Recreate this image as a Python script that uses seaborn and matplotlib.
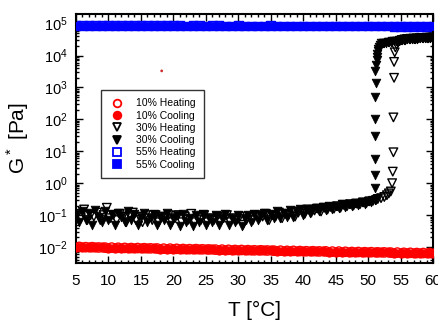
import numpy as np
import pandas as pd
import seaborn as sns
import matplotlib
matplotlib.use("Agg")
import matplotlib.pyplot as plt
from matplotlib.lines import Line2D
from matplotlib.ticker import LogLocator, MultipleLocator

# ---- data ----
T_grid = [5, 6, 7, 8, 9, 10, 11, 12, 13, 14, 15, 16, 17, 18, 19, 20, 21, 22, 23, 24,
          25, 26, 27, 28, 29, 30, 31, 32, 33, 34, 35, 36, 37, 38, 39, 40, 41, 42, 43, 44,
          45, 46, 47, 48, 49, 50, 51, 52, 53, 54, 55, 56, 57, 58, 59, 60]

g10_cool = [0.0100, 0.0099, 0.0098, 0.0098, 0.0097, 0.0096, 0.0095, 0.0095, 0.0094, 0.0093,
            0.0092, 0.0091, 0.0091, 0.0090, 0.0089, 0.0088, 0.0088, 0.0087, 0.0086, 0.0085,
            0.0085, 0.0084, 0.0083, 0.0082, 0.0082, 0.0081, 0.0080, 0.0080, 0.0079, 0.0078,
            0.0078, 0.0077, 0.0077, 0.0076, 0.0075, 0.0075, 0.0074, 0.0074, 0.0073, 0.0072,
            0.0072, 0.0071, 0.0071, 0.0070, 0.0070, 0.0069, 0.0069, 0.0068, 0.0068, 0.0067,
            0.0067, 0.0066, 0.0066, 0.0065, 0.0065, 0.0065]
T10_heat = [5.5, 6.5, 7.5, 8.5, 9.5, 10.5, 11.5, 12.5, 13.5, 14.5, 15.5, 16.5, 17.5, 18.5,
            19.5, 20.5, 21.5, 22.5, 23.5, 24.5, 25.5, 26.5, 27.5, 28.5, 29.5, 30.5, 31.5,
            32.5, 33.5, 34.5, 35.5, 36.5, 37.5, 38.5, 39.5, 40.5, 41.5, 42.5, 43.5, 44.5,
            45.5, 46.5, 47.5, 48.5, 49.5, 50.5, 51.5, 52.5, 53.5, 54.5, 55.5, 56.5, 57.5,
            58.5, 59.5, 60.0]
g10_heat = [0.0101, 0.0099, 0.0099, 0.0097, 0.0096, 0.0096, 0.0095, 0.0094, 0.0093, 0.0093,
            0.0092, 0.0091, 0.0090, 0.0089, 0.0089, 0.0088, 0.0087, 0.0086, 0.0086, 0.0085,
            0.0084, 0.0083, 0.0083, 0.0082, 0.0081, 0.0081, 0.0080, 0.0079, 0.0079, 0.0078,
            0.0077, 0.0077, 0.0076, 0.0076, 0.0075, 0.0074, 0.0074, 0.0073, 0.0073, 0.0072,
            0.0072, 0.0071, 0.0070, 0.0070, 0.0069, 0.0069, 0.0068, 0.0068, 0.0067, 0.0067,
            0.0066, 0.0066, 0.0065, 0.0065, 0.0065, 0.0064]
outlier_T = [18.2]
outlier_g = [3300]

g55_cool = [8.6e4, 8.7e4, 8.6e4, 8.6e4, 8.7e4, 8.6e4, 8.6e4, 8.7e4, 8.6e4, 8.6e4,
            8.6e4, 8.7e4, 8.6e4, 8.6e4, 8.6e4, 8.7e4, 8.6e4, 8.6e4, 8.6e4, 8.6e4,
            8.6e4, 8.6e4, 8.5e4, 8.6e4, 8.6e4, 8.5e4, 8.6e4, 8.5e4, 8.6e4, 8.5e4,
            8.5e4, 8.6e4, 8.5e4, 8.5e4, 8.5e4, 8.5e4, 8.5e4, 8.4e4, 8.5e4, 8.5e4,
            8.4e4, 8.5e4, 8.4e4, 8.4e4, 8.4e4, 8.4e4, 8.3e4, 8.4e4, 8.3e4, 8.3e4,
            8.3e4, 8.3e4, 8.2e4, 8.3e4, 8.2e4, 8.2e4]
g55_heat = [8.6e4, 8.6e4, 8.7e4, 8.6e4, 8.6e4, 8.7e4, 8.6e4, 8.6e4, 8.6e4, 8.7e4,
            8.6e4, 8.6e4, 8.6e4, 8.6e4, 8.7e4, 8.6e4, 8.6e4, 8.5e4, 8.6e4, 8.6e4,
            8.5e4, 8.6e4, 8.6e4, 8.5e4, 8.5e4, 8.6e4, 8.5e4, 8.5e4, 8.5e4, 8.5e4,
            8.6e4, 8.5e4, 8.5e4, 8.4e4, 8.5e4, 8.4e4, 8.5e4, 8.4e4, 8.4e4, 8.4e4,
            8.4e4, 8.4e4, 8.3e4, 8.4e4, 8.3e4, 8.3e4, 8.3e4, 8.3e4, 8.3e4, 8.2e4,
            8.2e4, 8.2e4, 8.2e4, 8.1e4, 8.1e4, 8.1e4]

# 30 % baseline (both runs), 5 - 51 C in 0.5 steps
T30_base = [5.0, 5.5, 6.0, 6.5, 7.0, 7.5, 8.0, 8.5, 9.0, 9.5, 10.0, 10.5, 11.0, 11.5, 12.0,
            12.5, 13.0, 13.5, 14.0, 14.5, 15.0, 15.5, 16.0, 16.5, 17.0, 17.5, 18.0, 18.5,
            19.0, 19.5, 20.0, 20.5, 21.0, 21.5, 22.0, 22.5, 23.0, 23.5, 24.0, 24.5, 25.0,
            25.5, 26.0, 26.5, 27.0, 27.5, 28.0, 28.5, 29.0, 29.5, 30.0, 30.5, 31.0, 31.5,
            32.0, 32.5, 33.0, 33.5, 34.0, 34.5, 35.0, 35.5, 36.0, 36.5, 37.0, 37.5, 38.0,
            38.5, 39.0, 39.5, 40.0, 40.5, 41.0, 41.5, 42.0, 42.5, 43.0, 43.5, 44.0, 44.5,
            45.0, 45.5, 46.0, 46.5, 47.0, 47.5, 48.0, 48.5, 49.0, 49.5, 50.0, 50.5, 51.0]
g30_cool_base = [0.11, 0.06, 0.13, 0.07, 0.12, 0.05, 0.14, 0.09, 0.06, 0.13, 0.07, 0.11, 0.05,
                 0.12, 0.09, 0.06, 0.13, 0.07, 0.11, 0.05, 0.09, 0.12, 0.06, 0.08, 0.11, 0.05,
                 0.09, 0.07, 0.12, 0.05, 0.08, 0.10, 0.045, 0.11, 0.06, 0.08, 0.045, 0.10, 0.06,
                 0.11, 0.05, 0.08, 0.06, 0.10, 0.05, 0.08, 0.11, 0.05, 0.08, 0.06, 0.10, 0.045,
                 0.08, 0.10, 0.06, 0.11, 0.07, 0.10, 0.12, 0.07, 0.11, 0.08, 0.13, 0.08, 0.12,
                 0.09, 0.14, 0.09, 0.13, 0.15, 0.10, 0.16, 0.12, 0.15, 0.17, 0.13, 0.18, 0.14,
                 0.19, 0.16, 0.20, 0.17, 0.22, 0.18, 0.23, 0.20, 0.24, 0.21, 0.26, 0.23, 0.28,
                 0.26, 0.30]
g30_heat_base = [0.11, 0.08, 0.15, 0.07, 0.10, 0.09, 0.12, 0.07, 0.10, 0.17, 0.08, 0.10, 0.07,
                 0.11, 0.09, 0.06, 0.10, 0.12, 0.07, 0.09, 0.06, 0.10, 0.08, 0.07, 0.10, 0.06,
                 0.09, 0.08, 0.10, 0.06, 0.08, 0.10, 0.06, 0.09, 0.07, 0.11, 0.06, 0.08, 0.07,
                 0.10, 0.06, 0.08, 0.07, 0.09, 0.06, 0.08, 0.10, 0.06, 0.08, 0.07, 0.09, 0.05,
                 0.07, 0.09, 0.07, 0.10, 0.08, 0.09, 0.11, 0.07, 0.10, 0.09, 0.12, 0.08, 0.11,
                 0.10, 0.13, 0.09, 0.12, 0.14, 0.11, 0.15, 0.12, 0.14, 0.16, 0.13, 0.17, 0.15,
                 0.18, 0.16, 0.19, 0.17, 0.21, 0.19, 0.22, 0.20, 0.23, 0.22, 0.25, 0.24, 0.27,
                 0.28, 0.30]

# 30 % cooling: drop column near 51 C
T30_cool_drop = [51.0, 51.1, 51.0, 51.1, 51.0, 51.1, 51.2, 51.1, 51.2, 51.3, 51.3, 51.4,
                 51.5, 51.6, 51.7, 51.9]
g30_cool_drop = [0.7, 1.8, 5.6, 30, 100, 500, 1400, 3200, 5000, 7000, 9000, 11000,
                 13500, 16000, 19000, 22000]
# 30 % cooling: high plateau
T30_cool_top = [52.0, 52.25, 52.5, 52.75, 53.0, 53.25, 53.5, 53.75, 54.0, 54.25, 54.5,
                54.75, 55.0, 55.25, 55.5, 55.75, 56.0, 56.25, 56.5, 56.75, 57.0, 57.25,
                57.5, 57.75, 58.0, 58.25, 58.5, 58.75, 59.0, 59.25, 59.5, 59.75, 60.0]
g30_cool_top = [24000, 24500, 25000, 25500, 26000, 26500, 27000, 27500, 28000, 28500,
                29000, 29500, 30000, 30500, 31000, 31500, 32000, 32300, 32600, 33000,
                33300, 33600, 34000, 34300, 34600, 35000, 35300, 35600, 36000, 36300,
                36600, 37000, 38000]

# 30 % heating: upturn and rise column near 54 C, then plateau
T30_heat_rise = [51.5, 52.0, 52.5, 52.9, 53.2, 53.5, 53.7, 53.8, 53.9, 53.9, 54.0, 54.0,
                 54.1, 54.2, 54.4, 54.6, 54.9, 55.2, 55.6, 56.0, 56.5, 57.0, 57.5, 58.0,
                 58.5, 59.0, 59.5, 60.0]
g30_heat_rise = [0.32, 0.34, 0.37, 0.42, 0.48, 0.55, 1.0, 2.3, 9.3, 115, 2000, 6300,
                 12600, 18000, 22000, 26000, 29000, 30500, 32000, 33000, 33500, 34000,
                 34500, 35000, 35500, 36000, 36500, 37000]

T30_cool = T30_base + T30_cool_drop + T30_cool_top
g30_cool = g30_cool_base + g30_cool_drop + g30_cool_top
T30_heat = [t + 0.25 for t in T30_base] + T30_heat_rise
g30_heat = g30_heat_base + g30_heat_rise

series = [
    ("10% Heating", T10_heat, g10_heat, "o", "red", False),
    ("10% Cooling", T_grid, g10_cool, "o", "red", True),
    ("30% Heating", T30_heat, g30_heat, "v", "black", False),
    ("30% Cooling", T30_cool, g30_cool, "v", "black", True),
    ("55% Heating", T_grid, g55_heat, "s", "blue", False),
    ("55% Cooling", T_grid, g55_cool, "s", "blue", True),
]

sns.set_style("ticks")
plt.rcParams['font.family'] = ['Liberation Sans', 'DejaVu Sans']
plt.rcParams['mathtext.fontset'] = 'custom'
plt.rcParams['mathtext.rm'] = 'Liberation Sans'
plt.rcParams['text.color'] = 'black'
plt.rcParams['axes.labelcolor'] = 'black'
plt.rcParams['xtick.color'] = 'black'
plt.rcParams['ytick.color'] = 'black'
plt.rcParams['axes.edgecolor'] = 'black'

fig = plt.figure(figsize=(4.38, 3.29), dpi=100)
ax = fig.add_axes([0.1735, 0.2006, 0.8151, 0.7568])

sizes = {"o": 45, "v": 38, "s": 38}
for name, xs, ys, mk, col, filled in series:
    df = pd.DataFrame({"T": xs, "G": ys})
    if filled:
        sns.scatterplot(data=df, x="T", y="G", marker=mk, s=sizes[mk], color=col,
                        edgecolor=col, linewidth=0.6, ax=ax, zorder=3)
    else:
        sns.scatterplot(data=df, x="T", y="G", marker=mk, s=sizes[mk], facecolor="none",
                        edgecolor=col, linewidth=1.0, ax=ax, zorder=2)

sns.scatterplot(x=outlier_T, y=outlier_g, marker="o", s=4, color="#d03030",
                edgecolor="none", ax=ax)

ax.set_yscale("log")
ax.set_xlim(5, 60)
ax.set_ylim(10 ** -2.5, 10 ** 5.3)
ax.xaxis.set_major_locator(MultipleLocator(5))
ax.xaxis.set_minor_locator(MultipleLocator(1))
ax.yaxis.set_major_locator(LogLocator(base=10, numticks=20))
ax.yaxis.set_minor_locator(LogLocator(base=10, subs=np.arange(2, 10), numticks=20))

ax.tick_params(which="both", direction="in", top=True, right=True, width=1.0)
ax.tick_params(which="major", length=5)
ax.tick_params(which="minor", length=2.5)
ax.tick_params(axis="x", labelsize=11, pad=8)
ax.tick_params(axis="y", labelsize=10.5, pad=6)
for sp in ax.spines.values():
    sp.set_linewidth(1.5)

ax.set_xlabel("T [°C]", fontsize=15, labelpad=9)
ax.set_ylabel("G$^*$ [Pa]", fontsize=15, labelpad=5)

handles = []
for name, xs, ys, mk, col, filled in series:
    handles.append(Line2D([], [], linestyle="none", marker=mk, markersize=5.5,
                          markerfacecolor=col if filled else "white",
                          markeredgecolor=col, markeredgewidth=1.3, label=name))
leg = ax.legend(handles=handles, loc="upper left", bbox_to_anchor=(0.07, 0.695),
                fontsize=7.5, frameon=True, fancybox=False, edgecolor="black",
                handlelength=1.4, handletextpad=1.2, labelspacing=0.22,
                borderpad=0.8, borderaxespad=0)
leg.get_frame().set_linewidth(1.0)

fig.savefig("out.png", dpi=100)
